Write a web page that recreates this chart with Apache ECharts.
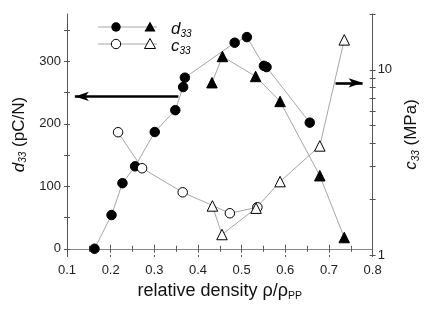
<!DOCTYPE html>
<html><head><meta charset="utf-8">
<script src="https://cdn.jsdelivr.net/npm/echarts@6/dist/echarts.min.js"></script>
<style>html,body{margin:0;padding:0;background:#fff}#c{width:429px;height:309px}</style>
</head><body><div id="c"></div>
<script>
// d33 (left axis, pC/N)
const d33CircleX = [0.163, 0.202, 0.227, 0.256, 0.301, 0.348, 0.366, 0.370, 0.484, 0.512, 0.551, 0.557, 0.656];
const d33CircleY = [0, 54, 105, 132, 187, 222, 259, 274, 330, 339, 293, 291, 202];
const d33TriX = [0.432, 0.456, 0.532, 0.588, 0.679, 0.735];
const d33TriY = [266, 308, 276, 236, 117, 18];
// c33 (right axis, MPa, log)
const c33CircleX = [0.217, 0.272, 0.365, 0.473, 0.536];
const c33CircleY = [4.6, 2.94, 2.18, 1.68, 1.81];
const c33TriX = [0.433, 0.455, 0.533, 0.588, 0.679, 0.735];
const c33TriY = [1.84, 1.29, 1.79, 2.49, 3.88, 14.5];
// ticks
const xTicks = [0.1, 0.2, 0.3, 0.4, 0.5, 0.6, 0.7, 0.8];
const leftLabels = [0, 100, 200, 300];
const leftTicks = [0, 50, 100, 150, 200, 250, 300, 350];
const rightLabels = [1, 10];
const rightTicks = [1, 2, 3, 4, 5, 6, 7, 8, 9, 10, 20];
// annotation arrows
const leftArrow = {y: 244, from: 0.355, to: 0.118};
const rightArrow = {y: 8.5, from: 0.715, to: 0.777};

const zip = (a, b) => a.map((v, i) => [v, b[i]]);
const FONT = '"Liberation Sans", Arial, sans-serif';
const AX = '#555';

const chart = echarts.init(document.getElementById('c'), null, {renderer: 'canvas'});

const yBase = {
  min: -10, max: 376, type: 'value', splitLine: {show: false}
};
const sub = {fontSize: 10, fontFamily: FONT, color: '#111', padding: [9, 0, 0, 0], fontStyle: 'italic'};
const lineSeries = (name, data, yIdx, sym, filled, extra) => Object.assign({
  name, type: 'line', data, yAxisIndex: yIdx, symbol: sym,
  symbolSize: sym === 'circle' ? 9.5 : 10.5,
  showSymbol: true,
  lineStyle: {color: '#8f8f8f', width: 0.8},
  itemStyle: filled ? {color: '#000', borderColor: '#000', borderWidth: 1}
                    : {color: '#fff', borderColor: '#000', borderWidth: 1},
  emphasis: {disabled: true},
  animation: false, z: 3
}, extra || {});

const arrowLine = (a) => ({silent: true, symbol: ['none', 'arrow'], symbolSize: [7, 14], label: {show: false},
  lineStyle: {color: '#000', width: 2.6, type: 'solid'},
  data: [[{coord: [a.from, a.y]}, {coord: [a.to, a.y]}]]});

const option = {
  animation: false,
  grid: {left: 67, right: 52, top: 14, bottom: 54, containLabel: false},
  xAxis: [{
    type: 'value', min: 0.1, max: 0.8, interval: 0.1, position: 'bottom',
    name: '{t|relative density ρ/ρ}{s|PP}', nameLocation: 'middle', nameGap: 26,
    nameTextStyle: {rich: {t: {fontSize: 18, fontFamily: FONT, color: '#111'},
                           s: {fontSize: 10.5, fontFamily: FONT, color: '#111', padding: [10, 0, 0, 0]}}},
    axisLine: {lineStyle: {color: AX, width: 1}},
    axisTick: {inside: true, length: 4, lineStyle: {color: AX}},
    minorTick: {show: true, splitNumber: 2, length: 3, lineStyle: {color: AX}},
    axisLabel: {fontSize: 13, fontFamily: FONT, color: '#222', margin: 9,
                formatter: v => v.toFixed(1)},
    splitLine: {show: false}, minorSplitLine: {show: false}
  }, {
    type: 'value', min: 0.1, max: 0.8, interval: 0.1, position: 'top',
    axisLine: {lineStyle: {color: '#888', width: 1}},
    axisTick: {inside: true, length: 4, lineStyle: {color: AX}},
    minorTick: {show: true, splitNumber: 2, length: 3, lineStyle: {color: AX}},
    axisLabel: {show: false}, splitLine: {show: false}
  }, {
    type: 'value', min: 0.1, max: 0.8, interval: 0.1, position: 'bottom',
    axisLine: {show: false},
    axisTick: {inside: false, length: 2, lineStyle: {color: AX}},
    axisLabel: {show: false}, splitLine: {show: false}
  }],
  yAxis: [Object.assign({}, yBase, {
    position: 'left',
    name: '{i|d}{s|33}{t| (pC/N)}', nameLocation: 'middle', nameGap: 35, nameRotate: 90,
    nameTextStyle: {rich: {i: {fontSize: 17, fontFamily: FONT, fontStyle: 'italic', color: '#111'},
                           s: sub,
                           t: {fontSize: 17, fontFamily: FONT, color: '#111'}}},
    axisLine: {show: true, lineStyle: {color: AX}},
    axisTick: {inside: false, length: 3, customValues: leftTicks, lineStyle: {color: AX}},
    axisLabel: {fontSize: 13, fontFamily: FONT, color: '#222', margin: 6, customValues: leftLabels}
  }), {
    type: 'log', logBase: 10, min: 1, max: 20, position: 'right',
    name: '{i|c}{s|33}{t| (MPa)}', nameLocation: 'middle', nameGap: 19, nameRotate: 90,
    nameTextStyle: {rich: {i: {fontSize: 17, fontFamily: FONT, fontStyle: 'italic', color: '#111'},
                           s: sub,
                           t: {fontSize: 17, fontFamily: FONT, color: '#111'}}},
    axisLine: {show: true, lineStyle: {color: AX}},
    axisTick: {inside: false, length: 3, customValues: rightTicks, lineStyle: {color: AX}},
    axisLabel: {fontSize: 13, fontFamily: FONT, color: '#222', margin: 5, customValues: rightLabels},
    splitLine: {show: false}
  }, Object.assign({}, yBase, {
    position: 'left',
    axisLine: {show: false},
    axisTick: {inside: true, length: 3, customValues: leftTicks, lineStyle: {color: AX}},
    axisLabel: {show: false}
  }), {
    type: 'log', logBase: 10, min: 1, max: 20, position: 'right',
    axisLine: {show: false},
    axisTick: {inside: true, length: 3, customValues: rightTicks, lineStyle: {color: AX}},
    axisLabel: {show: false}, splitLine: {show: false}
  }],
  series: [
    lineSeries('d33c', zip(d33CircleX, d33CircleY), 0, 'circle', true, {markLine: arrowLine(leftArrow)}),
    lineSeries('d33t', zip(d33TriX, d33TriY), 0, 'triangle', true),
    lineSeries('c33c', zip(c33CircleX, c33CircleY), 1, 'circle', false, {markLine: arrowLine(rightArrow)}),
    lineSeries('c33t', zip(c33TriX, c33TriY), 1, 'triangle', false)
  ],
  graphic: [
    {type: 'line', shape: {x1: 98, y1: 27, x2: 157, y2: 27}, style: {stroke: '#8f8f8f', lineWidth: 0.8}},
    {type: 'circle', shape: {cx: 116, cy: 27, r: 4.7}, style: {fill: '#000'}},
    {type: 'polygon', shape: {points: [[150, 21.5], [155.5, 31.5], [144.5, 31.5]]}, style: {fill: '#000'}},
    {type: 'text', x: 171, y: 20, style: {text: '{i|d}{s|33}', rich: {
      i: {fontSize: 17, fontFamily: FONT, fontStyle: 'italic', fill: '#111'}, s: sub}}},
    {type: 'line', shape: {x1: 98, y1: 44, x2: 157, y2: 44}, style: {stroke: '#8f8f8f', lineWidth: 0.8}},
    {type: 'circle', shape: {cx: 116, cy: 44, r: 4.7}, style: {fill: '#fff', stroke: '#000', lineWidth: 1}},
    {type: 'polygon', shape: {points: [[150, 38.5], [155.5, 48.5], [144.5, 48.5]]}, style: {fill: '#fff', stroke: '#000', lineWidth: 1}},
    {type: 'text', x: 171, y: 37, style: {text: '{i|c}{s|33}', rich: {
      i: {fontSize: 17, fontFamily: FONT, fontStyle: 'italic', fill: '#111'}, s: sub}}}
  ]
};
chart.setOption(option);
</script></body></html>
